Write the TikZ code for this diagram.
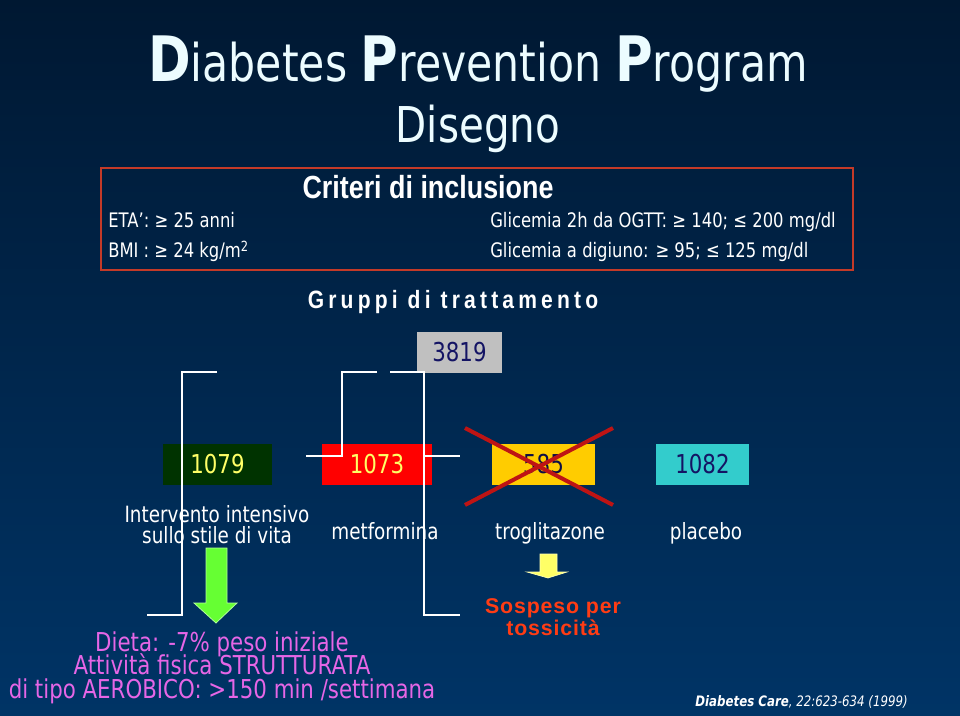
\documentclass[tikz,border=0pt]{standalone}
\usepackage{fontspec}
\setmainfont{DejaVu Sans}[FakeStretch=0.82]
\newfontfamily\narrowfont{Liberation Sans}[FakeStretch=0.84]
\newfontfamily\spacedfont{Liberation Sans}[LetterSpace=4]
\usetikzlibrary{positioning,calc}
\definecolor{bgtop}{RGB}{0,24,50}
\definecolor{bgbottom}{RGB}{0,52,102}
\definecolor{titlewhite}{RGB}{236,252,255}
\definecolor{boxred}{RGB}{196,58,40}
\definecolor{darkgreen}{RGB}{0,51,0}
\definecolor{metred}{RGB}{255,0,0}
\definecolor{trogyellow}{RGB}{255,204,0}
\definecolor{placcyan}{RGB}{51,204,204}
\definecolor{totgray}{RGB}{192,192,192}
\definecolor{numyellow}{RGB}{255,255,102}
\definecolor{numnavy}{RGB}{20,20,100}
\definecolor{crossred}{RGB}{190,20,20}
\definecolor{arrowgreen}{RGB}{102,255,51}
\definecolor{arrowyellow}{RGB}{255,255,102}
\definecolor{sospred}{RGB}{255,60,20}
\definecolor{dietpink}{RGB}{230,102,230}
\newcommand\bigini[1]{{\bfseries\fontsize{47}{50}\selectfont #1}}
\newcommand\tightlines{\setlength{\lineskiplimit}{-20pt}\setlength{\lineskip}{0pt}}

\begin{document}
\begin{tikzpicture}[x=0.75pt,y=-0.75pt,
        txt/.style={inner sep=0pt,text=white},
        numbox/.style={minimum height=30.75pt,inner sep=0pt,font=\fontsize{19.5}{21}\selectfont},
        label/.style={txt,font=\fontsize{16.8}{15.75}\selectfont\tightlines,align=center},
        crit/.style={txt,anchor=base west,font=\fontsize{15}{17}\selectfont},
        bracket/.style={draw=white,line width=2.2pt},
        cross/.style={draw=crossred,line width=3pt}
    ]
        % Background
        \shade[top color=bgtop,bottom color=bgbottom] (0,0) rectangle (960,716);
        \useasboundingbox (0,0) rectangle (960,716);

        % Title
        \node[txt,anchor=base,text=titlewhite,font=\fontsize{39}{42}\selectfont] (title) at (478,82)
            {\bigini{D}iabetes \bigini{P}revention \bigini{P}rogram};
        \node[txt,anchor=base,text=titlewhite,font=\fontsize{37}{40}\selectfont] (design) at (478,143) {Disegno};

        % Inclusion criteria
        \node[draw=boxred,line width=1.4pt,minimum width=564pt,minimum height=76.5pt] (criteria) at (477,219) {};
        \node[txt,anchor=base,font=\narrowfont\bfseries\fontsize{24}{26}\selectfont] (crittitle) at (428,199) {Criteri di inclusione};
        \node[crit] (age) at (108,228) {ETA’: ≥ 25 anni};
        \node[crit] (bmi) at (108,258) {BMI : ≥ 24 kg/m\textsuperscript{2}};
        \node[crit] (ogtt) at (490,228) {Glicemia 2h da OGTT: ≥ 140; ≤ 200 mg/dl};
        \node[crit] (fasting) at (490,258) {Glicemia a digiuno: ≥ 95; ≤ 125 mg/dl};

        % Treatment groups
        \node[txt,anchor=base,font=\narrowfont\bfseries\fontsize{18.8}{20}\selectfont] (groups) at (453,309)
            {G\,r\,u\,p\,p\,i \,d\,i \,t\,r\,a\,t\,t\,a\,m\,e\,n\,t\,o};
        \node[numbox,fill=totgray,text=numnavy,minimum width=63.75pt] (total) at (459.5,352.5) {3819};

        % Groups
        \node[numbox,fill=darkgreen,text=numyellow,minimum width=81.75pt] (lsv) at (217.5,464.5) {1079};
        \node[numbox,fill=metred,text=numyellow,minimum width=82.5pt] (met) at (377,464.5) {1073};
        \node[numbox,fill=trogyellow,text=numnavy!70!black,minimum width=77.25pt] (trog) at (543.5,464.5) {585};
        \node[numbox,fill=placcyan,text=numnavy,minimum width=69.75pt] (plac) at (702.5,464.5) {1082};

        % Troglitazone crossed out
        \coordinate (xtl) at (465,428);
        \coordinate (xbr) at (613,505);
        \coordinate (xtr) at (613,428);
        \coordinate (xbl) at (465,505);
        \draw[cross] (xtl) -- (xbr);
        \draw[cross] (xtr) -- (xbl);

        % Arm labels
        \node[label,anchor=base] (lsvlab) at (217,543) {Intervento intensivo\\sullo stile di vita};
        \node[label,anchor=base] (metlab) at (385,539) {metformina};
        \node[label,anchor=base] (troglab) at (550,539) {troglitazone};
        \node[label,anchor=base] (placlab) at (706,539) {placebo};

        % Brackets
        \coordinate (lsvtop) at (217,372);
        \coordinate (lsvend) at (147,615);
        \coordinate (mettop) at (377,372);
        \coordinate (metend) at (306,456);
        \coordinate (trogtop) at (390,372);
        \coordinate (trogend) at (460,456);
        \coordinate (placend) at (460,615);
        \draw[bracket] (lsvtop) -- (182,372) -- (182,615) -- (lsvend);
        \draw[bracket] (mettop) -- (342,372) -- (342,456) -- (metend);
        \draw[bracket] (trogtop) -- (424,372) -- (424,615) -- (placend);
        \draw[bracket] (424,456) -- (trogend);

        % Arrows
        \draw[fill=arrowgreen,draw=arrowgreen!50!white,line width=0.6pt]
            (206,548) -- (227,548) -- (227,603) -- (237,603) -- (216,623) -- (194,603) -- (206,603) -- cycle;
        \draw[fill=arrowyellow,draw=arrowyellow!50!white,line width=0.5pt]
            (540,554) -- (557,554) -- (557,572) -- (567,572) -- (548,578) -- (527,572) -- (540,572) -- cycle;

        % Outcomes
        \node[txt,anchor=base,text=sospred,align=center,font=\spacedfont\bfseries\fontsize{16}{16.5}\selectfont\tightlines] (stopped) at (553,635)
            {Sospeso per\\tossicità};
        \node[txt,anchor=base,text=dietpink,align=center,font=\fontsize{19.5}{17.6}\selectfont\tightlines] (diet) at (222,698)
            {Dieta: -7\% peso iniziale\\Attività fisica STRUTTURATA\\di tipo AEROBICO: >150 min /settimana};

        % Reference
        \node[txt,anchor=base east,font=\itshape\fontsize{10.8}{12}\selectfont] (ref) at (908,706)
            {{\bfseries Diabetes Care}, 22:623-634 (1999)};
    \end{tikzpicture}
\end{document}
